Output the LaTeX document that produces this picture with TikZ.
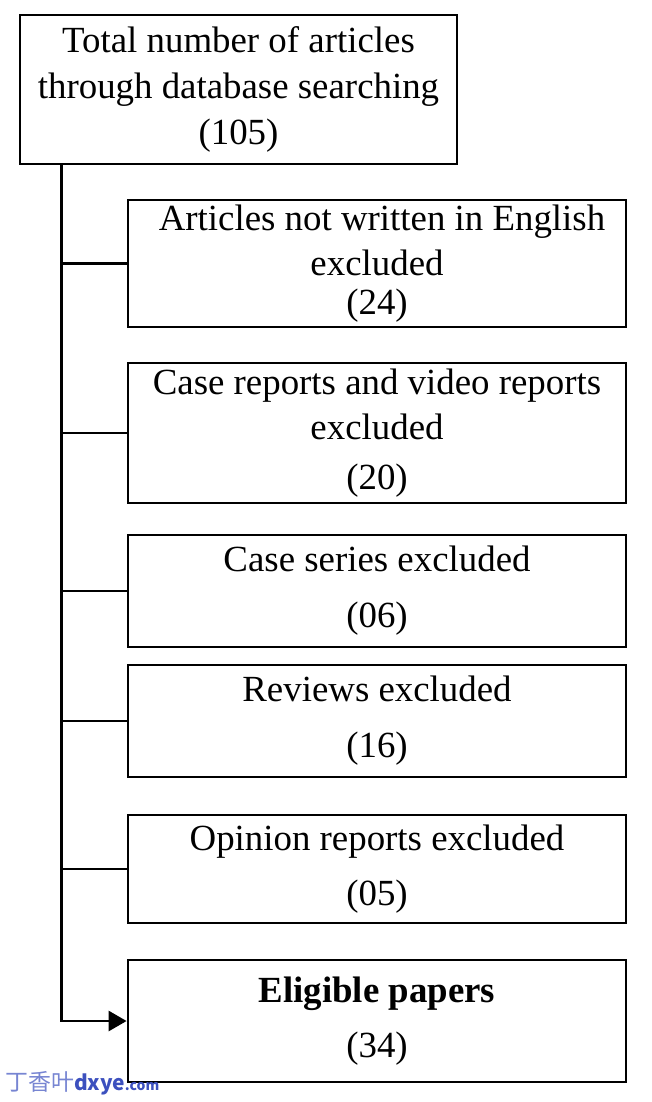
\documentclass[tikz,border=0pt]{standalone}
\usepackage{fontspec}
\setmainfont{Liberation Serif}
\newfontfamily\cjk{Noto Sans CJK SC}
\usepackage{tikz}
\usetikzlibrary{positioning,arrows.meta,calc}
\usepackage{xcolor}
\definecolor{markblue}{RGB}{60,80,190}
\tikzset{
  box/.style={draw, line width=2.8bp, inner sep=0pt, align=center,
    minimum width=498bp, font=\fontsize{37}{46}\selectfont},
  >={Triangle[length=18bp,width=20bp]},
}

\begin{document}
\begin{tikzpicture}[
x=1bp, y=-1bp,
line width=2.8bp
]
\useasboundingbox (0,0) rectangle (652,1102);

\node[box,minimum width=437bp,minimum height=149bp] (total) at (238.5,89.5)
  {Total number of articles\\through database searching\\(105)};
\node[box,minimum height=127bp] (lang) at (377,263.5)
  {\hspace*{10bp}Articles not written in English\\excluded\\[-7bp](24)};
\node[box,minimum height=140bp] (case) at (377,433)
  {Case reports and video reports\\excluded\\[4bp](20)};
\node[box,minimum height=112bp] (series) at (377,591)
  {Case series excluded\\[10bp](06)};
\node[box,minimum height=112bp] (review) at (377,721)
  {Reviews excluded\\[10bp](16)};
\node[box,minimum height=108bp] (opinion) at (377,869)
  {Opinion reports excluded\\[9bp](05)};
\node[box,minimum height=122bp] (elig) at (377,1021)
  {\textbf{Eligible papers}\\[9bp](34)};

% trunk and branches
\coordinate (trunk) at ([xshift=43bp]total.south west);
\draw[->] (trunk) |- (elig.west);
\foreach \b in {lang,case,series,review,opinion}
  \draw[line width=2.8bp] (trunk |- \b.west) -- (\b.west);

\node[anchor=west, inner sep=0pt] (mark) at (4,1083)
  {\color{markblue!70}\cjk\fontsize{23}{23}\selectfont 丁香叶%
   \color{markblue}\bfseries\fontsize{21}{21}\selectfont dxye\fontsize{14}{14}\selectfont.com};
\end{tikzpicture}
\end{document}
